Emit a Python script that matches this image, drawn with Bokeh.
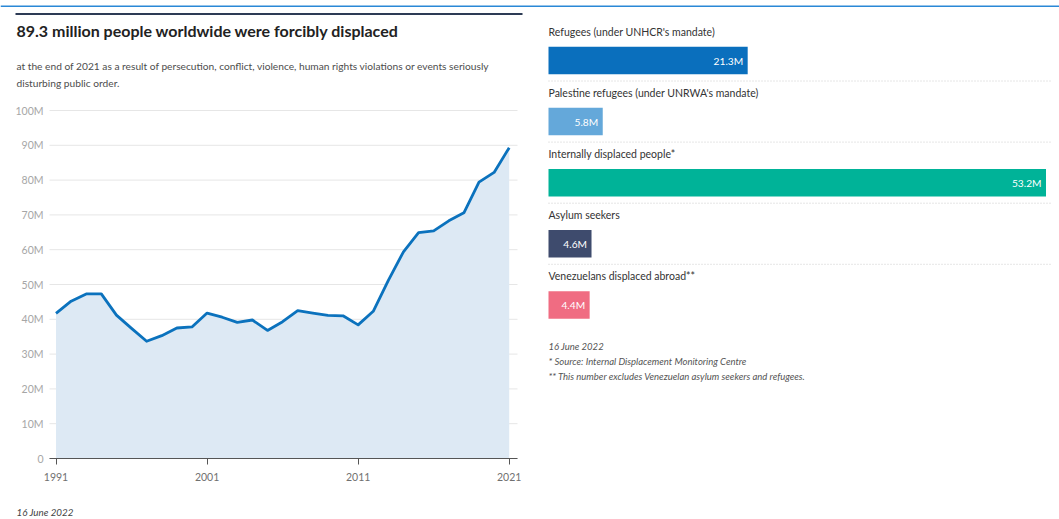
from bokeh.plotting import figure
from bokeh.models import Range1d, FixedTicker, LinearAxis
from bokeh.core.properties import value
from bokeh.embed import file_html
from bokeh.resources import INLINE

FONT = "Lato"

# ---------------- data ----------------
years = list(range(1991, 2022))
displaced_millions = [41.7, 45.2, 47.3, 47.3, 41.2, 37.4, 33.7, 35.3, 37.5, 37.8,
                      41.8, 40.6, 39.1, 39.8, 36.8, 39.3, 42.5, 41.8, 41.1, 41.0,
                      38.4, 42.3, 51.2, 59.4, 64.9, 65.4, 68.3, 70.6, 79.4, 82.2, 89.3]
y_ticks = [0, 10, 20, 30, 40, 50, 60, 70, 80, 90, 100]
y_tick_labels = ["0", "10M", "20M", "30M", "40M", "50M", "60M", "70M", "80M", "90M", "100M"]
x_ticks = [1991, 2001, 2011, 2021]

categories = ["Refugees (under UNHCR's mandate)",
              "Palestine refugees (under UNRWA's mandate)",
              "Internally displaced people*",
              "Asylum seekers",
              "Venezuelans displaced abroad**"]
category_values = [21.3, 5.8, 53.2, 4.6, 4.4]
value_labels = ["21.3M", "5.8M", "53.2M", "4.6M", "4.4M"]
bar_colors = ["#0a6fbd", "#64a8da", "#00b398", "#3e4b6d", "#f06c82"]

title_text = "89.3 million people worldwide were forcibly displaced"
subtitle_lines = ["at the end of 2021 as a result of persecution, conflict, violence, human rights violations or events seriously",
                  "disturbing public order."]
date_text = "16 June 2022"
notes = ["16 June 2022",
         "* Source: Internal Displacement Monitoring Centre",
         "** This number excludes Venezuelan asylum seekers and refugees."]

TOP_BLUE = "#2a88d6"
DARK = "#2d3b55"
W, H = 1059, 519

# one canvas; the default ranges are page pixels (y downward) for headings and notes
p = figure(width=W, height=H, x_range=Range1d(0, W), y_range=Range1d(H, 0),
           output_backend="svg", toolbar_location=None, min_border=0, outline_line_color=None,
           x_axis_location=None, y_axis_location=None)
p.grid.visible = False

# ---------------- line chart scales ----------------
LX0, LX1 = 55.5, 508.7      # pixel x of first and last year
LY0, LY100 = 458, 110       # pixel y of 0 and 100M
FRAME_L, FRAME_R = 49, 517
ppy = (LX1 - LX0) / (years[-1] - years[0])
yr_start = years[0] - LX0 / ppy
ppm = (LY0 - LY100) / 100.0


def year_at(px):
    return yr_start + px / ppy


p.extra_x_ranges["years"] = Range1d(yr_start, yr_start + W / ppy)
p.extra_y_ranges["people"] = Range1d(-(H - LY0) / ppm, LY0 / ppm)

# ---------------- bar chart scales ----------------
BX0 = 548
px_per_m = (1045.5 - BX0) / max(category_values)
v_start = -BX0 / px_per_m
p.extra_x_ranges["value"] = Range1d(v_start, v_start + W / px_per_m)
pitch, c0 = 61.1, 60
p.extra_y_ranges["row"] = Range1d((H - c0) / pitch, -c0 / pitch)

# ---------------- header ----------------
p.segment(x0=[0], y0=[5.75], x1=[W], y1=[5.75], line_color=TOP_BLUE, line_width=1.5)
p.segment(x0=[15], y0=[13.5], x1=[522], y1=[13.5], line_color=DARK, line_width=2.2)
p.text(x=[16], y=[30], text=[title_text], text_font=value(FONT), text_font_style="bold",
       text_font_size="16px", text_baseline="alphabetic", text_color="#222222")
p.text(x=[16, 16], y=[65.5, 82.5], text=subtitle_lines, text_font=value(FONT),
       text_font_size="10.2px", text_baseline="alphabetic", text_color="#4d4d4d")
p.text(x=[16], y=[511.5], text=[date_text], text_font=value(FONT), text_font_style="italic",
       text_font_size="9.8px", text_baseline="alphabetic", text_color="#444444")

# ---------------- line chart ----------------
p.segment(x0=[year_at(FRAME_L)] * len(y_ticks), x1=[year_at(FRAME_R)] * len(y_ticks),
          y0=y_ticks, y1=y_ticks, line_color="#e6e6e6", line_width=1,
          x_range_name="years", y_range_name="people")
p.varea(x=years, y1=0, y2=displaced_millions, fill_color="#dde9f4",
        x_range_name="years", y_range_name="people")
p.line(x=years, y=displaced_millions, line_color="#0b72bd", line_width=2.8, line_join="round",
       x_range_name="years", y_range_name="people")

yaxis = LinearAxis(x_range_name="years", y_range_name="people", ticker=FixedTicker(ticks=y_ticks),
                   fixed_location=year_at(FRAME_L),
                   major_label_overrides={t: l for t, l in zip(y_ticks, y_tick_labels)},
                   axis_line_color=None, major_tick_line_color=None, minor_tick_line_color=None,
                   major_tick_out=0, major_tick_in=0,
                   major_label_standoff=6, major_label_text_font=FONT,
                   major_label_text_font_size="10.5px", major_label_text_color="#a6a6a6")
p.add_layout(yaxis, "left")
xaxis = LinearAxis(x_range_name="years", y_range_name="people", ticker=FixedTicker(ticks=x_ticks),
                   fixed_location=0, bounds=(year_at(FRAME_L - 0.5), year_at(FRAME_R)),
                   axis_line_color="#555555", major_tick_line_color="#555555",
                   major_tick_out=6, major_tick_in=0, minor_tick_line_color=None,
                   major_label_standoff=8, major_label_text_font=FONT,
                   major_label_text_font_size="10.5px", major_label_text_color="#707070")
p.add_layout(xaxis, "below")

# ---------------- bar chart ----------------
rows = list(range(len(categories)))
p.hbar(y=rows, left=0, right=category_values, height=27.5 / pitch, fill_color=bar_colors,
       line_color=None, x_range_name="value", y_range_name="row")
p.text(x=[0] * len(rows), y=[r - 29 / pitch for r in rows], text=categories, text_font=value(FONT),
       text_font_size="10.5px", text_baseline="alphabetic", text_color="#333333",
       x_range_name="value", y_range_name="row")
p.text(x=category_values, y=[r + 0.5 / pitch for r in rows], text=value_labels, text_align="right",
       x_offset=-4.5, text_font=value(FONT), text_font_size="10.2px", text_baseline="alphabetic",
       text_color="white", x_range_name="value", y_range_name="row")
sep_rows = rows[:-1]
sep_end = (1052 - BX0) / px_per_m
p.segment(x0=[0] * len(sep_rows), x1=[sep_end] * len(sep_rows),
          y0=[r + 20.5 / pitch for r in sep_rows], y1=[r + 20.5 / pitch for r in sep_rows],
          line_color="#cccccc", line_width=1, line_dash="1 2",
          x_range_name="value", y_range_name="row")
p.text(x=[BX0] * len(notes), y=[346, 361, 375.5], text=notes, text_font=value(FONT),
       text_font_style="italic", text_font_size="9.5px", text_baseline="alphabetic",
       text_color="#555555")

open("out.html", "w").write(file_html(p, INLINE))
